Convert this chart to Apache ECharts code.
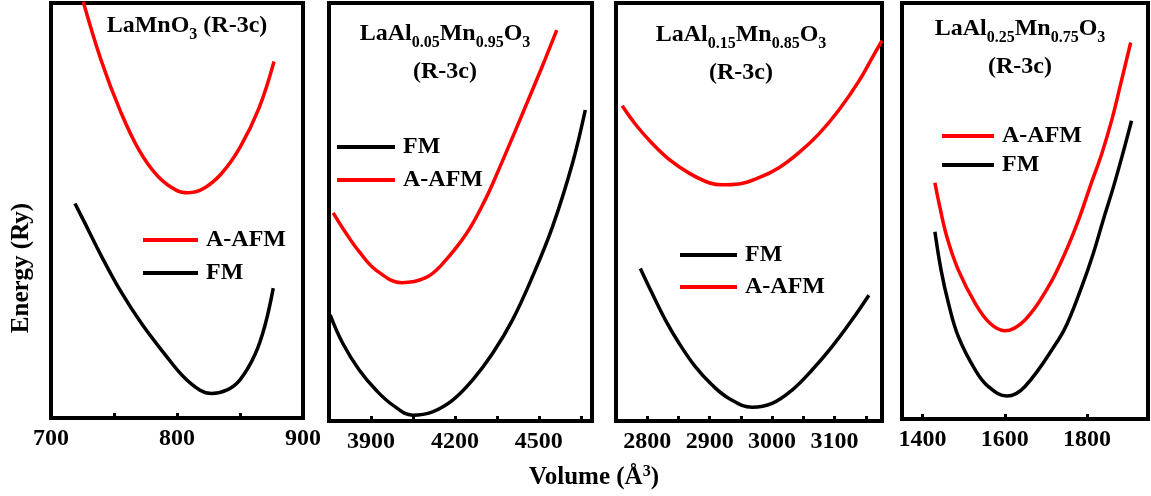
<!DOCTYPE html>
<html>
<head>
<meta charset="utf-8">
<script src="https://cdn.jsdelivr.net/npm/echarts/dist/echarts.min.js"></script>
<style>
  html, body { margin: 0; padding: 0; background: #fff; }
  #main { width: 1151px; height: 496px; }
</style>
</head>
<body>
<div id="main"></div>
<script>
// [volume (Å^3), energy]; energy axis has no scale, so values are % of panel height
const afm1 = [[725.6, 100.3], [740, 86], [755, 74], [770, 64.5], [785, 58.2], [800, 54.8], [809, 54.3], [820, 55.1],
  [835, 58.8], [850, 65.2], [865, 74.6], [877, 85.9]];
const fm1 = [[719, 51.7], [727, 46.9], [740.2, 38.9], [754.8, 30.8], [772, 22.7], [791.8, 14.8], [805, 10.0], [818.3, 6.7],
  [827.5, 5.9], [839.4, 6.7], [850, 9.2], [861.9, 15.3], [869.8, 22.3], [876.4, 31.3]];

const afm2 = [[3765, 49.8], [3811, 44.9], [3858, 40.5], [3918, 36.1], [4011, 33.1], [4096, 34.3], [4153, 37.4], [4242, 44.9],
  [4308, 52.9], [4361, 60.8], [4412, 68.8], [4462, 76.8], [4512, 84.8], [4564, 93.5]];
const fm2 = [[3754, 25.4], [3799, 18.6], [3858, 12.2], [3918, 7.4], [3978, 3.8], [4049, 1.4], [4120, 2.2], [4192, 5.0],
  [4263, 9.8], [4335, 16.2], [4406, 24.2], [4477, 34.5], [4549, 46.5], [4620, 61.6], [4666, 74.4]];

const afm3 = [[2760, 75.4], [2781, 71.0], [2808, 66.4], [2835, 62.6], [2867, 59.3], [2899, 57.0], [2920, 56.5], [2947, 56.7],
  [2979, 58.2], [3011, 60.6], [3043, 64.2], [3075, 68.7], [3107, 74.4], [3139, 81.3], [3160, 86.8], [3176, 91.0]];
const fm3 = [[2789, 36.5], [2808, 30.5], [2829, 24.2], [2851, 18.6], [2877, 13.0], [2904, 8.6], [2931, 5.4], [2968, 3.3],
  [3000, 4.2], [3032, 7.4], [3064, 12.2], [3096, 17.8], [3128, 24.2], [3155, 30.1]];

const afm4 = [[1430, 56.8], [1440, 51.9], [1459, 43.8], [1487, 35.8], [1528, 27.8], [1564, 23.0], [1600, 21.2], [1649, 23.8],
  [1706, 31.8], [1746, 39.8], [1779, 47.8], [1807, 55.8], [1836, 63.9], [1860, 71.9], [1880, 79.9], [1906, 90.5]];
const fm4 = [[1430, 45.0], [1445, 35.8], [1463, 27.8], [1487, 19.8], [1528, 11.8], [1560, 7.8], [1605, 5.5], [1649, 7.8],
  [1730, 19.0], [1752, 23.0], [1787, 31.8], [1815, 39.8], [1839, 47.8], [1864, 55.8], [1887, 63.9], [1908, 71.7]];

const xRanges = [[700, 900], [3750, 4690], [2750, 3176], [1350, 1948]];
const tickValues = [[750, 800, 850], [3900, 4050, 4200, 4350, 4500, 4650], [2800, 2850, 2900, 2950, 3000, 3050, 3100, 3150], [1400, 1600, 1800]];
const labelValues = [[700, 800, 900], [3900, 4200, 4500], [2800, 2900, 3000, 3100], [1400, 1600, 1800]];
const legendOrders = [['A-AFM', 'FM'], ['FM', 'A-AFM'], ['FM', 'A-AFM'], ['A-AFM', 'FM']];
const titles = [
  '{b|LaMnO}{s|3}{b| (R-3c)}',
  '{b|LaAl}{s|0.05}{b|Mn}{s|0.95}{b|O}{s|3}\n{c|(R-3c)}',
  '{b|LaAl}{s|0.15}{b|Mn}{s|0.85}{b|O}{s|3}\n{c|(R-3c)}',
  '{b|LaAl}{s|0.25}{b|Mn}{s|0.75}{b|O}{s|3}\n{c|(R-3c)}'
];

const font = 'Liberation Serif';
const RED = '#ff0000';

// panel boxes and where legends/titles sit
const grids = [
  { left: 51, top: 3, width: 252, height: 415 },
  { left: 329, top: 3, width: 263, height: 418 },
  { left: 616, top: 3, width: 266, height: 418 },
  { left: 902, top: 3, width: 246, height: 416 }
];
const legendPos = [[143, 228], [337, 135], [680, 243], [942, 124]];
const legendGaps = [9, 9, 8, 5];
const legendWidths = [55, 58, 57, 52];
const titlePos = [[187, 17], [445, 25], [741, 26], [1020, 20]];

const richTitle = {
  b: { fontFamily: font, fontWeight: 'bold', fontSize: 24, lineHeight: 26, padding: [0, 0, 5, 0], verticalAlign: 'bottom', fill: '#000' },
  s: { fontFamily: font, fontWeight: 'bold', fontSize: 16, lineHeight: 16, verticalAlign: 'bottom', fill: '#000' },
  c: { fontFamily: font, fontWeight: 'bold', fontSize: 24, lineHeight: 33, verticalAlign: 'bottom', fill: '#000' }
};

const chart = echarts.init(document.getElementById('main'));

const seriesData = [[afm1, fm1], [afm2, fm2], [afm3, fm3], [afm4, fm4]];
const series = [];
seriesData.forEach((pair, i) => {
  series.push({
    name: 'A-AFM', type: 'line', xAxisIndex: i, yAxisIndex: i, data: pair[0],
    showSymbol: false, smooth: 0.4, color: RED, lineStyle: { color: RED, width: 3.5 }
  });
  series.push({
    name: 'FM', type: 'line', xAxisIndex: i, yAxisIndex: i, data: pair[1],
    showSymbol: false, smooth: 0.4, color: '#000', lineStyle: { color: '#000', width: 3.5 }
  });
});

chart.setOption({
  animation: false,
  backgroundColor: '#fff',
  grid: grids.map(g => ({ ...g, show: true, borderColor: '#000', borderWidth: 4, backgroundColor: 'transparent' })),
  xAxis: xRanges.map((r, i) => ({
    type: 'value', gridIndex: i, min: r[0], max: r[1],
    splitLine: { show: false },
    axisLine: { show: false },
    axisTick: { show: true, inside: true, length: 5, lineStyle: { color: '#000', width: 3 }, customValues: tickValues[i] },
    axisLabel: {
      customValues: labelValues[i], margin: 9, color: '#000',
      fontFamily: font, fontWeight: 'bold', fontSize: 24,
      formatter: v => String(v)
    }
  })),
  yAxis: grids.map((g, i) => ({
    type: 'value', gridIndex: i, min: 0, max: 100,
    axisLine: { show: false }, axisTick: { show: false },
    axisLabel: { show: false }, splitLine: { show: false }
  })),
  legend: legendOrders.map((order, i) => ({
    data: order, left: legendPos[i][0], top: legendPos[i][1], orient: 'vertical', padding: 0,
    icon: 'rect', itemWidth: legendWidths[i], itemHeight: 4, itemGap: legendGaps[i], selectedMode: false,
    textStyle: { fontFamily: font, fontWeight: 'bold', fontSize: 24, color: '#000', padding: [0, 0, 0, 3] }
  })),
  graphic: [
    ...titles.map((t, i) => ({
      type: 'text', x: titlePos[i][0], y: titlePos[i][1],
      style: { text: t, rich: richTitle, align: 'center', verticalAlign: 'top' }
    })),
    {
      type: 'text', x: 22, y: 268, rotation: Math.PI / 2,
      style: {
        text: 'Energy (Ry)', fontFamily: font, fontWeight: 'bold', fontSize: 25,
        fill: '#000', align: 'center', verticalAlign: 'middle'
      }
    },
    {
      type: 'text', x: 594, y: 478,
      style: {
        text: '{b|Volume (Å}{p|3}{b|)}', align: 'center', verticalAlign: 'middle',
        rich: {
          b: { fontFamily: font, fontWeight: 'bold', fontSize: 25, lineHeight: 28, verticalAlign: 'middle', fill: '#000' },
          p: { fontFamily: font, fontWeight: 'bold', fontSize: 16, lineHeight: 16, verticalAlign: 'top', fill: '#000' }
        }
      }
    }
  ],
  series: series
});
</script>
</body>
</html>
